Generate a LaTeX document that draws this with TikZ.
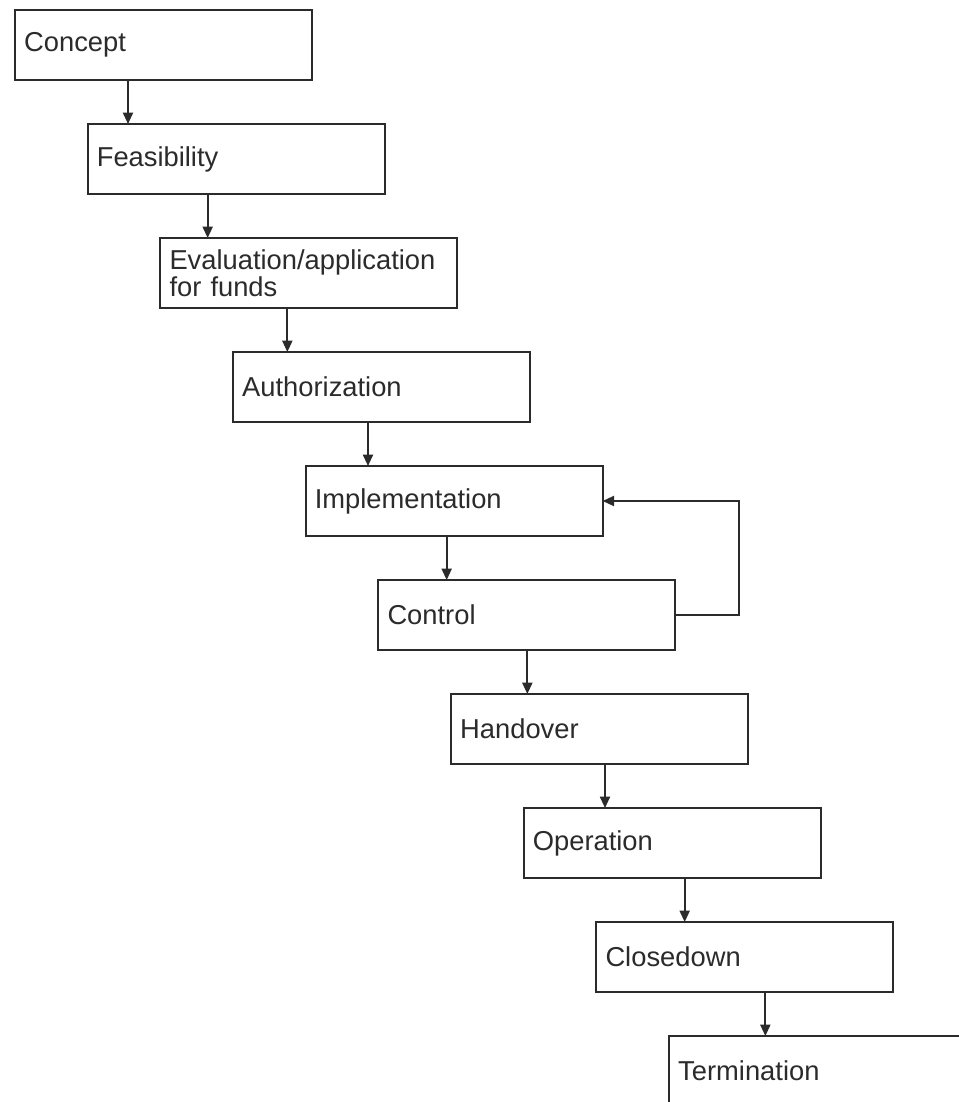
\documentclass[tikz,border=0pt]{standalone}
\usepackage{fontspec}
\setmainfont{Liberation Sans}
\usetikzlibrary{arrows.meta,positioning,calc}
\definecolor{ink}{HTML}{2B2B2B}
\tikzset{
  stagebox/.style={
    draw=ink,
    line width=1.5pt,
    fill=white,
    align=left,
    minimum width=222.75pt,
    minimum height=52.5pt,
    text width=209pt,
    inner xsep=6.75pt,
    inner ysep=0pt,
    outer sep=0pt,
    font=\fontsize{20.5pt}{20pt}\selectfont,
    text=ink
  },
  flowarrow/.style={-{Triangle[length=8.5pt,width=7.5pt]},line width=1.4pt,draw=ink}
}
\begin{document}
\begin{tikzpicture}[node distance=33pt and 54.5pt]
  \useasboundingbox (0,0) rectangle (719.25pt,-826.5pt);
  \clip (0,0) rectangle (719.25pt,-826.5pt);
  \node[stagebox, anchor=north west] (concept) at (11.25pt,-7.5pt) {Concept};
  \node[stagebox, below right=of concept.south west] (feas) {Feasibility};
  \node[stagebox, below right=of feas.south west] (eval) {Evaluation/application\\for funds};
  \node[stagebox, below right=of eval.south west] (auth) {Authorization};
  \node[stagebox, below right=of auth.south west] (impl) {Implementation};
  \node[stagebox, below right=of impl.south west] (control) {Control};
  \node[stagebox, below right=of control.south west] (hand) {Handover};
  \node[stagebox, below right=of hand.south west] (oper) {Operation};
  \node[stagebox, below right=of oper.south west] (close) {Closedown};
  \node[stagebox, below right=of close.south west] (term) {Termination};
  % stage to stage
  \foreach \src/\dst/\off in {concept/feas/84.75, feas/eval/90, eval/auth/95.25,
      auth/impl/101.25, impl/control/105.75, control/hand/111.75,
      hand/oper/115.5, oper/close/120.75, close/term/126.75} {
    \coordinate (tail) at ([xshift=\off pt]\src.south west);
    \draw[flowarrow] (tail) -- (tail |- \dst.north);
  }
  % feedback loop
  \draw[flowarrow] (control.east) -- ++(48pt,0) |- (impl.east);
\end{tikzpicture}
\end{document}
